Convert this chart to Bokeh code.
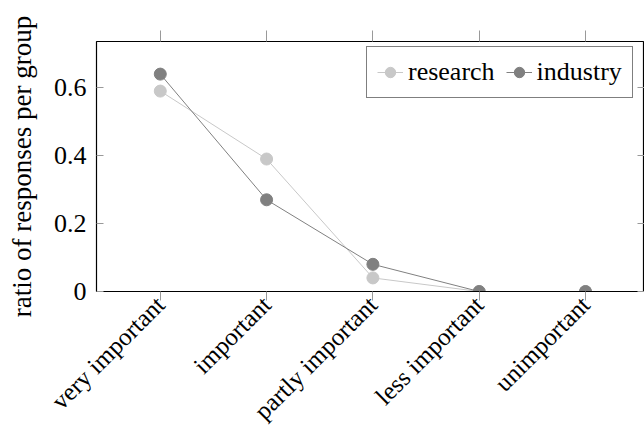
import math
from bokeh.plotting import figure
from bokeh.models import Range1d, FixedTicker, LinearAxis, Legend, LegendItem, ColumnDataSource
from bokeh.embed import file_html
from bokeh.resources import INLINE

categories = ["very important", "important", "partly important", "less important", "unimportant"]
research = [0.59, 0.39, 0.04, 0.0, 0.0]
industry = [0.64, 0.27, 0.08, 0.0, 0.0]
y_ticks = [0, 0.2, 0.4, 0.6]
y_tick_labels = ["0", "0.2", "0.4", "0.6"]

FONT = "Liberation Serif"
TICK_COLOR = "#999999"

xs = list(range(len(categories)))
src = ColumnDataSource(dict(x=xs, research=research, industry=industry))

p = figure(width=644, height=437, output_backend="svg", toolbar_location=None,
           x_range=Range1d(-0.6, 4.555), y_range=Range1d(0, 0.736),
           x_axis_location=None, y_axis_location=None,
           min_border_left=96, min_border_top=41, min_border_right=0, min_border_bottom=146)
p.outline_line_color = "black"
p.outline_line_width = 1.2
p.background_fill_color = "white"
p.border_fill_color = "white"
p.xgrid.grid_line_color = None
p.ygrid.grid_line_color = None

# axes
bottom = LinearAxis(ticker=FixedTicker(ticks=xs),
                    major_label_overrides={i: c for i, c in enumerate(categories)},
                    major_label_orientation=math.pi / 4,
                    major_tick_in=0, major_tick_out=9, major_tick_line_color=TICK_COLOR,
                    minor_tick_line_color=None, axis_line_color="black",
                    major_label_text_font=FONT, major_label_text_font_size="25px",
                    major_label_text_color="black", major_label_standoff=0)
p.add_layout(bottom, "below")

top = LinearAxis(ticker=FixedTicker(ticks=xs),
                 major_label_overrides={i: "" for i in xs},
                 major_tick_in=0, major_tick_out=11, major_tick_line_color=TICK_COLOR,
                 minor_tick_line_color=None, axis_line_color=None, major_label_standoff=0)
p.add_layout(top, "above")

left = LinearAxis(ticker=FixedTicker(ticks=y_ticks),
                  major_label_overrides={t: l for t, l in zip(y_ticks, y_tick_labels)},
                  major_tick_in=7, major_tick_out=0, major_tick_line_color=TICK_COLOR,
                  minor_tick_line_color=None, axis_line_color=None,
                  major_label_text_font=FONT, major_label_text_font_size="26px",
                  major_label_text_color="black", major_label_standoff=10,
                  axis_label="ratio of responses per group",
                  axis_label_text_font=FONT, axis_label_text_font_size="27px",
                  axis_label_text_font_style="normal", axis_label_text_color="black",
                  axis_label_standoff=14)
p.add_layout(left, "left")

right = LinearAxis(ticker=FixedTicker(ticks=y_ticks),
                   major_label_overrides={t: "" for t in y_ticks},
                   major_tick_in=7, major_tick_out=0, major_tick_line_color=TICK_COLOR,
                   minor_tick_line_color=None, axis_line_color=None, major_label_standoff=0)
p.add_layout(right, "right")

# series
c_res = "#c8c8c8"
c_ind = "#808080"
l1 = p.line("x", "research", source=src, line_color=c_res, line_width=1)
s1 = p.scatter("x", "research", source=src, size=12, fill_color=c_res, line_color=c_res)
l2 = p.line("x", "industry", source=src, line_color=c_ind, line_width=1)
s2 = p.scatter("x", "industry", source=src, size=12, fill_color=c_ind, line_color=c_ind)

legend = Legend(items=[LegendItem(label="research", renderers=[l1, s1]),
                       LegendItem(label="industry", renderers=[l2, s2])],
                orientation="horizontal", location=(270, 193),
                border_line_color="black", border_line_width=1.2,
                background_fill_color="white", background_fill_alpha=1,
                label_text_font=FONT, label_text_font_size="26px", label_text_color="black",
                glyph_width=26, glyph_height=26, padding=10, spacing=11,
                label_standoff=5, margin=0)
p.add_layout(legend)

open("out.html", "w").write(file_html(p, INLINE))
